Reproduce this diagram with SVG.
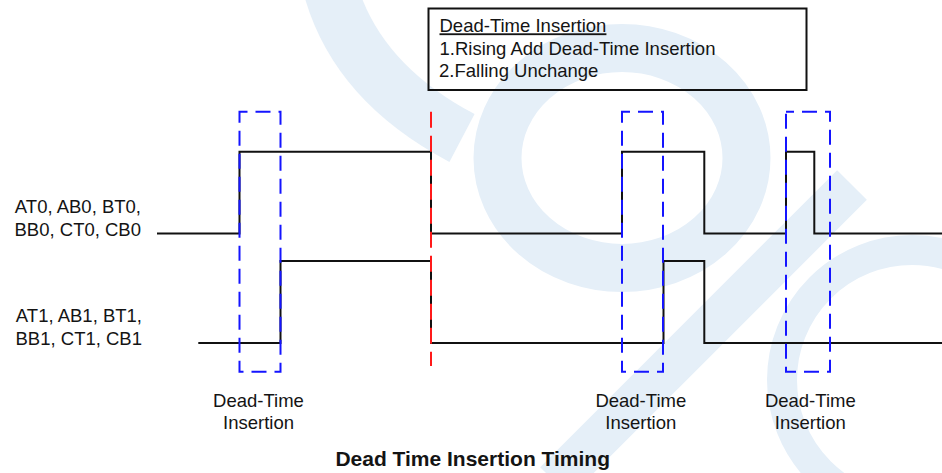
<svg xmlns="http://www.w3.org/2000/svg" width="942" height="473" viewBox="0 0 942 473">
<style>
  .wm{fill:none;stroke:#e5eff8;}
  .t{font-family:"Liberation Sans",Arial,sans-serif;font-size:18.5px;fill:#141414;}
  .title{font-family:"Liberation Sans",Arial,sans-serif;font-size:21px;font-weight:bold;fill:#141414;}
  .wave{fill:none;stroke:#111;stroke-width:2;stroke-linejoin:miter;}
  .dt{fill:none;stroke:#1414ff;stroke-width:2;stroke-dasharray:15 8;stroke-dashoffset:7;}
  .red{fill:none;stroke:#ff1a1a;stroke-width:2;stroke-dasharray:16 8;}
</style>
<rect width="942" height="473" fill="#ffffff"/>
<g id="watermark">
  <path class="wm" d="M 328 -20 Q 352 80 462 138" stroke-width="54"/>
  <ellipse class="wm" cx="622" cy="158" rx="124.5" ry="110" stroke-width="48"/>
  <line class="wm" x1="852" y1="185" x2="555" y2="482" stroke-width="42"/>
  <circle class="wm" cx="912" cy="380" r="130" stroke-width="30"/>
</g>
<g id="legend-box">
  <rect x="428.5" y="8.5" width="378" height="81.5" fill="none" stroke="#111" stroke-width="2"/>
  <text class="t" x="439.5" y="32.3" text-decoration="underline">Dead-Time Insertion</text>
  <text class="t" x="439.5" y="54.5">1.Rising Add Dead-Time Insertion</text>
  <text class="t" x="439" y="76.7">2.Falling Unchange</text>
</g>
<g id="label-row0">
  <text class="t" text-anchor="end" x="141" y="213.3">AT0, AB0, BT0,</text>
  <text class="t" text-anchor="end" x="141" y="235.7">BB0, CT0, CB0</text>
</g>
<g id="label-row1">
  <text class="t" text-anchor="end" x="142" y="322">AT1, AB1, BT1,</text>
  <text class="t" text-anchor="end" x="142" y="344.7">BB1, CT1, CB1</text>
</g>
<g id="connectors">
  <path id="wave-row0" class="wave" d="M157 233.5 H239.5 V151.7 H431 V233.5 H622 V151.7 H704.3 V233.5 H786 V151.7 H814.3 V233.5 H942"/>
  <path id="wave-row1" class="wave" d="M198.3 343 H280.5 V261 H431 V343 H663.5 V261 H704.3 V343 H942"/>
</g>
<g id="deadtime-1">
  <path class="dt" d="M239.5 111.7 H280.5 V371.7 H239.5 Z"/>
  <text class="t" text-anchor="middle" x="258.5" y="406.7">Dead-Time</text>
  <text class="t" text-anchor="middle" x="258.5" y="428.5">Insertion</text>
</g>
<g id="deadtime-2">
  <path class="dt" d="M622 111.7 H663 V371.7 H622 Z"/>
  <text class="t" text-anchor="middle" x="640.8" y="406.7">Dead-Time</text>
  <text class="t" text-anchor="middle" x="640.8" y="428.5">Insertion</text>
</g>
<g id="deadtime-3">
  <path class="dt" d="M786 111.7 H830 V371.7 H786 Z"/>
  <text class="t" text-anchor="middle" x="810.3" y="406.7">Dead-Time</text>
  <text class="t" text-anchor="middle" x="810.3" y="428.5">Insertion</text>
</g>
<g id="falling-marker">
  <line class="red" x1="431" y1="111.7" x2="431" y2="366"/>
</g>
<g id="title">
  <text class="title" text-anchor="middle" x="472.7" y="466">Dead Time Insertion Timing</text>
</g>
</svg>
